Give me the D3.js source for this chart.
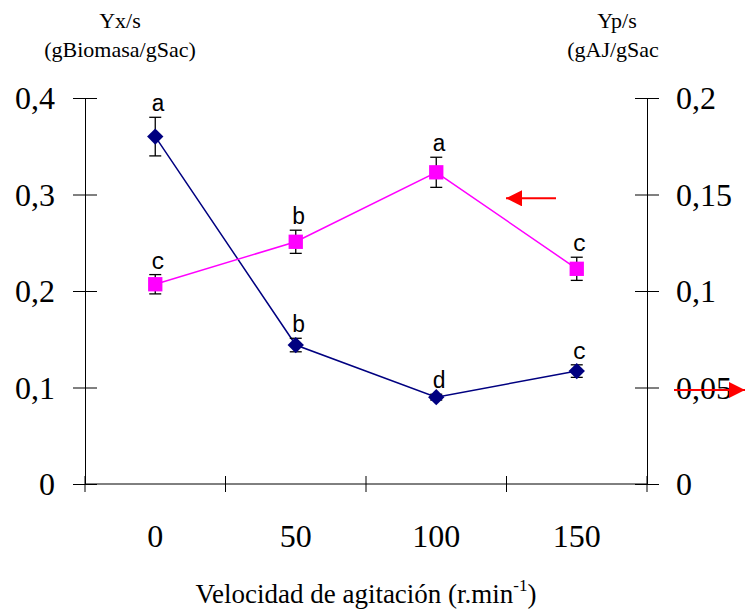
<!DOCTYPE html>
<html>
<head>
<meta charset="utf-8">
<script src="https://cdn.jsdelivr.net/npm/d3@7"></script>
<style>
  body { margin: 0; background: #fff; }
  svg { display: block; }
</style>
</head>
<body>
<script>
// data
const speeds = ["0", "50", "100", "150"];
const yxs = [0.36, 0.144, 0.090, 0.117];        // Yx/s, left axis
const yxsErr = [0.02, 0.007, 0.003, 0.0065];
const yxsLetters = ["a", "b", "d", "c"];
const yps = [0.1035, 0.1255, 0.1615, 0.1115];    // Yp/s, right axis
const ypsErr = [0.005, 0.006, 0.0078, 0.006];
const ypsLetters = ["c", "b", "a", "c"];
const leftTicks = [0, 0.1, 0.2, 0.3, 0.4];
const rightTicks = [0, 0.05, 0.1, 0.15, 0.2];

const W = 745, H = 612;
const plotL = 85, plotR = 647, plotT = 98, plotB = 484;

const svg = d3.select("body").append("svg")
    .attr("width", W)
    .attr("height", H)
    .attr("font-family", "Liberation Serif");

const x = d3.scaleBand().domain(speeds).range([plotL, plotR]).padding(0);
const yL = d3.scaleLinear().domain([0, 0.4]).range([plotB, plotT]);
const yR = d3.scaleLinear().domain([0, 0.2]).range([plotB, plotT]);
const fmt = d => String(+d.toFixed(2)).replace(".", ",");

// left axis
const gL = svg.append("g")
    .attr("transform", "translate(" + plotL + ",0)")
    .call(d3.axisLeft(yL).tickValues(leftTicks).tickFormat(fmt).tickSizeOuter(0).tickSize(12).tickPadding(18));
gL.selectAll(".tick line").attr("x1", 12);
gL.selectAll(".tick text").attr("font-size", 32).attr("font-family", "Liberation Serif").attr("dy", "0.34em");

// right axis
const gR = svg.append("g")
    .attr("transform", "translate(" + plotR + ",0)")
    .call(d3.axisRight(yR).tickValues(rightTicks).tickFormat(fmt).tickSizeOuter(0).tickSize(12).tickPadding(17));
gR.selectAll(".tick line").attr("x1", -12);
gR.selectAll(".tick text").attr("font-size", 32).attr("font-family", "Liberation Serif").attr("dy", "0.34em");

// bottom axis: line, crossing ticks at band edges, labels at centres
const gB = svg.append("g")
    .attr("transform", "translate(0," + plotB + ")")
    .call(d3.axisBottom(x).tickSize(0).tickPadding(40).tickSizeOuter(0));
gB.selectAll(".tick text").attr("font-size", 32).attr("font-family", "Liberation Serif").attr("dy", "0.71em");
gB.select(".domain").remove();
gB.append("line").attr("x1", plotL).attr("x2", plotR).attr("stroke", "#000");
gB.selectAll(".edge")
    .data(d3.range(speeds.length + 1))
    .enter().append("line")
    .attr("x1", i => plotL + i * x.step())
    .attr("x2", i => plotL + i * x.step())
    .attr("y1", -8).attr("y2", 8)
    .attr("stroke", "#000");

// axis titles
svg.append("text").attr("x", 120).attr("y", 28).attr("text-anchor", "middle")
    .attr("font-size", 22).text("Yx/s");
svg.append("text").attr("x", 120).attr("y", 57).attr("text-anchor", "middle")
    .attr("font-size", 22).text("(gBiomasa/gSac)");
svg.append("text").attr("x", 617).attr("y", 28).attr("text-anchor", "middle")
    .attr("font-size", 22).text("Yp/s");
svg.append("text").attr("x", 613).attr("y", 57).attr("text-anchor", "middle")
    .attr("font-size", 22).text("(gAJ/gSac");
const xt = svg.append("text").attr("x", 366).attr("y", 603).attr("text-anchor", "middle")
    .attr("font-size", 27);
xt.append("tspan").text("Velocidad de agitación (r.min");
xt.append("tspan").attr("dy", -12).attr("font-size", 17).text("-1");
xt.append("tspan").attr("dy", 12).text(")");

// series
function drawSeries(vals, errs, letters, y, color, shape, size) {
  const cx = (d, i) => x(speeds[i]) + x.bandwidth() / 2;
  const g = svg.append("g");
  g.append("path")
      .datum(vals)
      .attr("fill", "none")
      .attr("stroke", color)
      .attr("stroke-width", 1.5)
      .attr("d", d3.line().x(cx).y(d => y(d)));
  const err = g.selectAll(".err").data(vals).enter().append("g")
      .attr("stroke", "#000").attr("stroke-width", 1.3);
  err.append("line")
      .attr("x1", cx).attr("x2", cx)
      .attr("y1", (d, i) => y(d + errs[i])).attr("y2", (d, i) => y(d - errs[i]));
  [1, -1].forEach(s => {
    err.append("line")
        .attr("x1", (d, i) => cx(d, i) - 6).attr("x2", (d, i) => cx(d, i) + 6)
        .attr("y1", (d, i) => y(d + s * errs[i])).attr("y2", (d, i) => y(d + s * errs[i]));
  });
  g.selectAll(".mk").data(vals).enter().append("path")
      .attr("transform", (d, i) => "translate(" + cx(d, i) + "," + y(d) + ")")
      .attr("d", d3.symbol().type(shape).size(size))
      .attr("fill", color);
  g.selectAll(".lbl").data(vals).enter().append("text")
      .attr("x", (d, i) => cx(d, i) + 3)
      .attr("y", (d, i) => y(d + errs[i]) - 6)
      .attr("text-anchor", "middle")
      .attr("font-family", "Liberation Mono")
      .attr("font-size", 23)
      .text((d, i) => letters[i]);
}
drawSeries(yxs, yxsErr, yxsLetters, yL, "#000080", d3.symbolDiamond2, 170);
drawSeries(yps, ypsErr, ypsLetters, yR, "#ff00ff", d3.symbolSquare, 205);

// red arrows
const arrows = [
  {x1: plotR - 141 + 50, x2: plotR - 141, v: 0.148},
  {x1: plotR + 27, x2: W, v: 0.0487}
];
svg.append("defs").append("marker")
    .attr("id", "head").attr("viewBox", "0 0 16 16")
    .attr("refX", 16).attr("refY", 8)
    .attr("markerWidth", 16).attr("markerHeight", 16)
    .attr("markerUnits", "userSpaceOnUse")
    .attr("orient", "auto")
    .append("path").attr("d", "M0,0L16,8L0,16Z").attr("fill", "#ff0000");
svg.selectAll(".arrow").data(arrows).enter().append("line")
    .attr("x1", d => d.x1).attr("x2", d => d.x2)
    .attr("y1", d => yR(d.v)).attr("y2", d => yR(d.v))
    .attr("stroke", "#ff0000").attr("stroke-width", 2)
    .attr("marker-end", "url(#head)");
</script>
</body>
</html>
